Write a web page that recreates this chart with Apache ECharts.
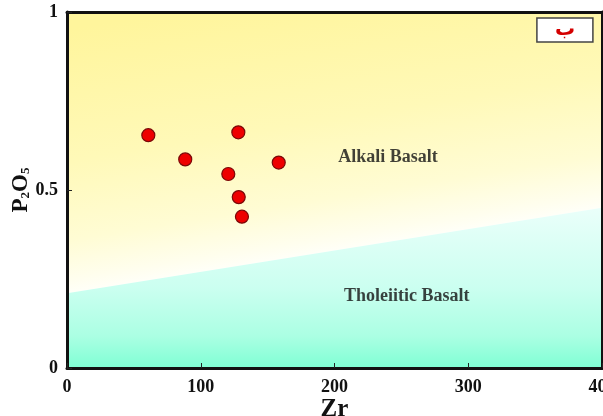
<!DOCTYPE html>
<html>
<head>
<meta charset="utf-8">
<script src="https://cdn.jsdelivr.net/npm/echarts@6/dist/echarts.min.js"></script>
<style>
  html, body { margin: 0; padding: 0; background: #ffffff; }
  #chart { width: 603px; height: 416px; }
</style>
</head>
<body>
<div id="chart"></div>
<script>
// Samples (Zr vs P2O5)
const zrValues   = [60.8, 88.4, 120.6, 128.1, 158.3, 128.4, 130.8];
const p2o5Values = [0.654, 0.586, 0.545, 0.662, 0.577, 0.480, 0.425];

// Alkali / tholeiitic dividing line
const boundaryZr   = [0, 400];
const boundaryP2O5 = [0.21, 0.45];

// Field labels
const fieldNames = ['Alkali Basalt', 'Tholeiitic Basalt'];
const fieldZr    = [240, 254];
const fieldP2O5  = [0.593, 0.202];

// Axis ticks
const xTicks = [0, 100, 200, 300, 400];
const yTicks = [0, 0.5, 1];

const serif = '"Liberation Serif", "Times New Roman", serif';

const samples = zrValues.map((x, i) => [x, p2o5Values[i]]);
const boundary = boundaryZr.map((x, i) => [x, boundaryP2O5[i]]);
const fields = fieldNames.map((n, i) => ({ name: n, value: [fieldZr[i], fieldP2O5[i]] }));

const axisLine = { show: true, onZero: false, lineStyle: { color: '#111', width: 3 } };

const chart = echarts.init(document.getElementById('chart'), null, { renderer: 'canvas' });
chart.setOption({
  animation: false,
  backgroundColor: '#ffffff',
  title: {
    text: 'ب',
    right: 10,
    top: 18,
    padding: [0, 18, 0, 18],
    backgroundColor: '#ffffff',
    borderColor: '#444',
    borderWidth: 1.5,
    textStyle: {
      fontFamily: '"DejaVu Sans", sans-serif', fontSize: 20, lineHeight: 24,
      fontWeight: 'bold', color: '#d40000'
    }
  },
  grid: { left: 67, right: 1, top: 12, bottom: 48, containLabel: false, outerBoundsMode: 'none' },
  xAxis: [{
    type: 'value', min: 0, max: 400, interval: 100, z: 5,
    axisLine: axisLine,
    axisTick: { show: true, inside: true, length: 5, lineStyle: { color: '#222', width: 1 } },
    axisLabel: {
      margin: 10, fontFamily: serif, fontSize: 18, fontWeight: 'bold', color: '#111',
      customValues: xTicks
    },
    splitLine: { show: false },
    name: 'Zr', nameLocation: 'middle', nameGap: 29, nameMoveOverlap: false,
    nameTextStyle: { fontFamily: serif, fontSize: 25, fontWeight: 'bold', color: '#111' }
  }, {
    type: 'value', position: 'top', min: 0, max: 400, z: 5,
    axisLine: axisLine, axisTick: { show: false }, axisLabel: { show: false }, splitLine: { show: false }
  }],
  yAxis: [{
    type: 'value', min: 0, max: 1, interval: 0.5, z: 5,
    axisLine: axisLine,
    axisTick: { show: true, inside: true, length: 5, lineStyle: { color: '#222', width: 1 } },
    axisLabel: {
      margin: 9, fontFamily: serif, fontSize: 18, fontWeight: 'bold', color: '#111',
      formatter: v => (yTicks.indexOf(v) >= 0 ? String(v) : '')
    },
    splitLine: { show: false },
    name: 'P{s|2}O{s|5}', nameLocation: 'middle', nameGap: 34, nameRotate: 90, nameMoveOverlap: false,
    nameTextStyle: {
      fontFamily: serif, fontSize: 23, fontWeight: 'bold', color: '#111',
      rich: { s: { fontFamily: serif, fontSize: 13, fontWeight: 'bold', color: '#111', padding: [9, 0, 0, 0] } }
    }
  }, {
    type: 'value', position: 'right', min: 0, max: 1, z: 5,
    axisLine: axisLine, axisTick: { show: false }, axisLabel: { show: false }, splitLine: { show: false }
  }],
  series: [
    {
      // Alkali field: from the dividing line up to the top of the plot
      type: 'line', data: boundary, symbol: 'none', silent: true, z: 1,
      lineStyle: { width: 0 },
      areaStyle: {
        origin: 'end', opacity: 1,
        color: new echarts.graphic.LinearGradient(0.2, 0, 0.277, 0.916, [
          { offset: 0, color: '#fff59c' },
          { offset: 0.5, color: '#fff9b8' },
          { offset: 0.8, color: '#fffcd4' },
          { offset: 0.95, color: '#fffeee' },
          { offset: 1, color: '#fffff8' }
        ])
      }
    },
    {
      // Tholeiitic field: from the dividing line down to the x axis
      type: 'line', data: boundary, symbol: 'none', silent: true, z: 1,
      lineStyle: { width: 0 },
      areaStyle: {
        origin: 'start', opacity: 1,
        color: new echarts.graphic.LinearGradient(0, 0, 0, 1, [
          { offset: 0, color: '#eafffa' },
          { offset: 0.5, color: '#cbfff0' },
          { offset: 0.8, color: '#abffe3' },
          { offset: 1, color: '#7fffd4' }
        ])
      }
    },
    {
      type: 'scatter', data: fields, symbolSize: 0, silent: true, z: 3,
      label: {
        show: true, position: 'inside', formatter: p => p.name,
        fontFamily: serif, fontSize: 18, fontWeight: 'bold', color: '#111'
      }
    },
    {
      type: 'scatter', data: samples, symbol: 'circle', symbolSize: 13, z: 4,
      itemStyle: { color: '#ee0000', opacity: 1, borderColor: '#7a0808', borderWidth: 1.2 }
    }
  ]
});
</script>
</body>
</html>
